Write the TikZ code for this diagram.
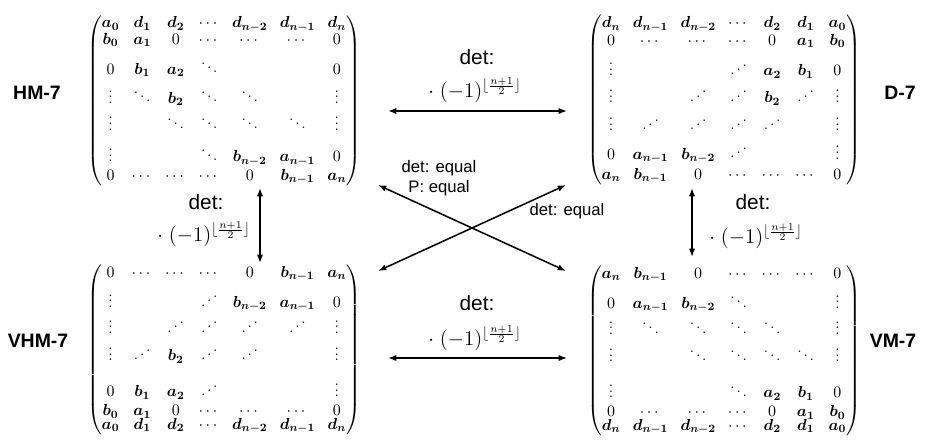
\RequirePackage{fix-cm}
\documentclass[tikz,border=0pt]{standalone}
\usepackage{amsmath}
\usepackage{graphicx}
\usepackage[no-math]{fontspec}
\newfontfamily\labelfont{Liberation Sans}
\usepackage{tikz}
\usetikzlibrary{arrows.meta, positioning, calc}
\newcommand{\bv}[1]{\boldsymbol{#1}}
\newcommand{\revdots}{\mathinner{\mkern1mu\raise1pt\hbox{.}\mkern2mu\raise4pt\hbox{.}\mkern2mu\raise7pt\vbox{\kern7pt\hbox{.}}\mkern1mu}}
\newcommand{\vdt}{\smash{\vdots}}
\newcommand{\ddt}{\smash{\ddots}}
\newcommand{\udt}{\smash{\revdots}}
\newcommand{\detfactor}{$\cdot\;(-1)^{\lfloor\frac{n+1}{2}\rfloor}$}
\setlength{\arraycolsep}{4.4pt}

\begin{document}
\begin{tikzpicture}[x=0.72pt, y=-0.72pt]
  \tikzset{
    mat/.style={inner sep=0pt, font=\fontsize{11.5}{12}\selectfont},
    tag/.style={font=\labelfont\bfseries\fontsize{14}{16}\selectfont},
    dettext/.style={font=\labelfont\fontsize{15}{17}\selectfont, inner sep=1pt},
    eqtext/.style={font=\labelfont\fontsize{12}{14.5}\selectfont, align=center, inner sep=1pt},
    facnode/.style={font=\fontsize{15}{17}\selectfont, inner sep=1pt},
    link/.style={{Latex[length=6pt,width=4.5pt]}-{Latex[length=6pt,width=4.5pt]}, line width=1.1pt}
  }
  \useasboundingbox (0,0) rectangle (925,441);
  % the four matrices
  \node[mat] (hm) at (224,100.5) {$\begin{pmatrix}
    \bv{a_0} & \bv{d_1} & \bv{d_2} & \cdots & \bv{d_{n-2}} & \bv{d_{n-1}} & \bv{d_n} \\
    \bv{b_0} & \bv{a_1} & 0 & \cdots & \cdots & \cdots & 0 \\[9.6pt]
    0 & \bv{b_1} & \bv{a_2} & \ddt & & & 0 \\[8.9pt]
    \vdt & \ddt & \bv{b_2} & \ddt & \ddt & & \vdt \\[7.2pt]
    \vdt & & \ddt & \ddt & \ddt & \ddt & \vdt \\[10.8pt]
    \vdt & & & \ddt & \bv{b_{n-2}} & \bv{a_{n-1}} & 0 \\[1.2pt]
    0 & \cdots & \cdots & \cdots & 0 & \bv{b_{n-1}} & \bv{a_n}
  \end{pmatrix}$};
  \node[mat] (dm) at (724,100) {$\begin{pmatrix}
    \bv{d_n} & \bv{d_{n-1}} & \bv{d_{n-2}} & \cdots & \bv{d_2} & \bv{d_1} & \bv{a_0} \\[0.7pt]
    0 & \cdots & \cdots & \cdots & 0 & \bv{a_1} & \bv{b_0} \\[10.1pt]
    \vdt & & & \udt & \bv{a_2} & \bv{b_1} & 0 \\[7.2pt]
    \vdt & & \udt & \udt & \bv{b_2} & \udt & \vdt \\[8.4pt]
    \vdt & \udt & \udt & \udt & \udt & & \vdt \\[8.2pt]
    0 & \bv{a_{n-1}} & \bv{b_{n-2}} & \udt & & & \vdt \\[2.4pt]
    \bv{a_n} & \bv{b_{n-1}} & 0 & \cdots & \cdots & \cdots & 0
  \end{pmatrix}$};
  \node[mat] (vhm) at (224,350) {$\begin{pmatrix}
    0 & \cdots & \cdots & \cdots & 0 & \bv{b_{n-1}} & \bv{a_n} \\[9.6pt]
    \vdt & & & \udt & \bv{b_{n-2}} & \bv{a_{n-1}} & 0 \\[6.7pt]
    \vdt & & \udt & \udt & \udt & \udt & \vdt \\[7.8pt]
    \vdt & \udt & \bv{b_2} & \udt & \udt & & \vdt \\[13.9pt]
    0 & \bv{b_1} & \bv{a_2} & \udt & & & \vdt \\[1.7pt]
    \bv{b_0} & \bv{a_1} & 0 & \cdots & \cdots & \cdots & 0 \\[-2.5pt]
    \bv{a_0} & \bv{d_1} & \bv{d_2} & \cdots & \bv{d_{n-2}} & \bv{d_{n-1}} & \bv{d_n}
  \end{pmatrix}$};
  \node[mat] (vm) at (724,351) {$\begin{pmatrix}
    \bv{a_n} & \bv{b_{n-1}} & 0 & \cdots & \cdots & \cdots & 0 \\[9.6pt]
    0 & \bv{a_{n-1}} & \bv{b_{n-2}} & \ddt & & & \vdt \\[6.7pt]
    \vdt & \ddt & \ddt & \ddt & \ddt & & \vdt \\[7.8pt]
    \vdt & & \ddt & \ddt & \ddt & \ddt & \vdt \\[13.9pt]
    \vdt & & & \ddt & \bv{a_2} & \bv{b_1} & 0 \\[1.7pt]
    0 & \cdots & \cdots & \cdots & 0 & \bv{a_1} & \bv{b_0} \\[-2.5pt]
    \bv{d_n} & \bv{d_{n-1}} & \bv{d_{n-2}} & \cdots & \bv{d_2} & \bv{d_1} & \bv{a_0}
  \end{pmatrix}$};
  % names
  \node[tag] (hmtag) at (37,93) {HM-7};
  \node[tag] (dtag) at (900,93) {D-7};
  \node[tag] (vhmtag) at (38,341) {VHM-7};
  \node[tag] (vmtag) at (893,341) {VM-7};
  % arrow ends
  \coordinate (topL) at (388,111);
  \coordinate (topR) at (567,111);
  \coordinate (botL) at (388,358);
  \coordinate (botR) at (567,358);
  \coordinate (lftT) at (260,188);
  \coordinate (lftB) at (260,263);
  \coordinate (rgtT) at (692,188);
  \coordinate (rgtB) at (692,257);
  \coordinate (crUL) at (378,185);
  \coordinate (crLR) at (566,271);
  \coordinate (crLL) at (378,271);
  \coordinate (crUR) at (566,185);
  \foreach \from/\to in {topL/topR, botL/botR, lftT/lftB, rgtT/rgtB, crUL/crLR, crLL/crUR}{
    \draw[link] (\from) -- (\to);
  }
  % labels
  \node[dettext] (topdet) at (477,57) {det:};
  \node[facnode] (topfac) at (475,90) {\detfactor};
  \node[dettext] (botdet) at (477,303) {det:};
  \node[facnode] (botfac) at (475,338) {\detfactor};
  \node[dettext] (lftdet) at (206,202) {det:};
  \node[facnode] (lftfac) at (204,234) {\detfactor};
  \node[dettext] (rgtdet) at (753,202) {det:};
  \node[facnode] (rgtfac) at (756,236) {\detfactor};
  \node[eqtext] (creq) at (439,178) {det: equal\\P: equal};
  \node[eqtext] (crdet) at (567,211) {det: equal};
\end{tikzpicture}
\end{document}
